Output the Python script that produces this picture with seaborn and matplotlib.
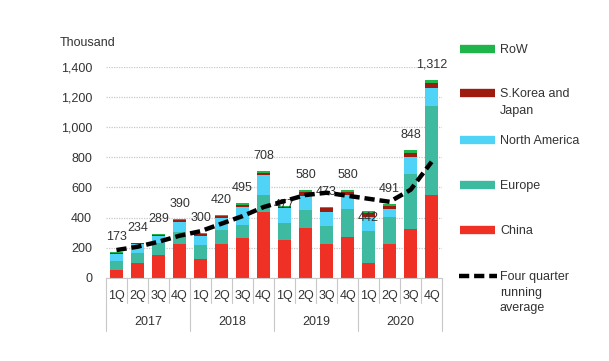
import numpy as np
import matplotlib
matplotlib.use("Agg")
import matplotlib.pyplot as plt
from matplotlib.lines import Line2D
import seaborn as sns

# values (thousand units)
quarters = ["1Q", "2Q", "3Q", "4Q"] * 4
years = ["2017", "2018", "2019", "2020"]
periods = [f"{q} {y}" for y in years for q in ["1Q", "2Q", "3Q", "4Q"]]

china = [50, 100, 150, 225, 128, 225, 267, 439, 252, 333, 225, 273, 101, 225, 322, 549]
europe = [60, 68, 85, 82, 90, 93, 84, 110, 114, 117, 119, 182, 212, 181, 364, 590]
north_america = [48, 55, 40, 62, 60, 77, 121, 133, 100, 95, 95, 95, 90, 52, 113, 121]
korea_japan = [10, 7, 9, 14, 14, 15, 15, 17, 7, 22, 22, 18, 25, 21, 29, 32]
row = [5, 4, 5, 7, 8, 10, 8, 9, 4, 13, 12, 12, 14, 12, 20, 20]
totals = [173, 234, 289, 390, 300, 420, 495, 708, 477, 580, 473, 580, 442, 491, 848, 1312]
running_avg = [185, 207, 240, 280, 310, 360, 410, 470, 510, 550, 565, 545, 525, 505, 585, 770]

series = [("China", china, "#ee3124"),
          ("Europe", europe, "#3dba9f"),
          ("North America", north_america, "#4fd3f6"),
          ("S.Korea and\nJapan", korea_japan, "#9e1b0f"),
          ("RoW", row, "#1fb54b")]

sns.set_style("white")
plt.rcParams["font.family"] = ["Liberation Sans", "DejaVu Sans"]
txt = "#333333"

fig = plt.figure(figsize=(6.09, 3.61), dpi=100)
ax = fig.add_axes([0.174, 0.230, 0.552, 0.585])

bottom = np.zeros(len(periods))
for name, vals, col in series:
    sns.barplot(x=periods, y=vals, bottom=bottom, color=col, saturation=1,
                width=0.63, order=periods, ax=ax, zorder=2, linewidth=0)
    bottom += np.array(vals)

# total labels (a few sit lower in the original)
label_off = {8: 10, 12: -45}
for i, t in enumerate(totals):
    ax.text(i, t + label_off.get(i, 100), f"{t:,}", ha="center", va="center",
            fontsize=9, color=txt, zorder=3)

ax.plot(range(len(periods)), running_avg, color="black", lw=3.2,
        linestyle=(0, (2.3, 1.1)), zorder=5)

ax.set_xlim(-0.5, 15.5)
ax.set_ylim(0, 1400)
ax.set_yticks(range(0, 1401, 200))
ax.set_yticklabels([f"{v:,}" for v in range(0, 1401, 200)], fontsize=9, color=txt)
ax.yaxis.grid(True, linestyle=(0, (1, 1)), color="#c8c8c8", lw=0.9, zorder=0)
ax.set_axisbelow(True)
for s in ["top", "right", "left"]:
    ax.spines[s].set_visible(False)
ax.spines["bottom"].set_color("#c8c8c8")
ax.spines["bottom"].set_linewidth(0.8)
ax.tick_params(axis="y", length=0, pad=10)
ax.set_xticks([])
ax.set_xlabel("")
ax.set_ylabel("")

# multi-level category axis
trans = ax.get_xaxis_transform()
for k in range(17):
    depth = -0.25 if k % 4 == 0 else -0.12
    ax.plot([k - 0.5, k - 0.5], [0, depth], transform=trans, color="#c8c8c8",
            lw=0.8, clip_on=False)
for i, q in enumerate(quarters):
    ax.text(i, -0.085, q, transform=trans, ha="center", va="center", fontsize=9, color=txt)
for j, y in enumerate(years):
    ax.text(j * 4 + 1.5, -0.21, y, transform=trans, ha="center", va="center",
            fontsize=9, color=txt)

fig.text(60 / 609, 1 - 43 / 361, "Thousand", fontsize=9, color=txt, va="center")

# legend drawn by hand to match the uneven spacing
legend_items = [("RoW", "#1fb54b", 49), ("S.Korea and\nJapan", "#9e1b0f", 93),
                ("North America", "#4fd3f6", 140), ("Europe", "#3dba9f", 185),
                ("China", "#ee3124", 230)]
for name, col, py in legend_items:
    yy = 1 - py / 361
    fig.add_artist(Line2D([460 / 609, 495 / 609], [yy, yy], color=col, lw=6,
                          solid_capstyle="butt", transform=fig.transFigure))
    fig.text(500 / 609, yy + 5 / 361, name, fontsize=9, color=txt, va="top",
             linespacing=1.6, transform=fig.transFigure)
yy = 1 - 276 / 361
fig.add_artist(Line2D([459 / 609, 497 / 609], [yy, yy], color="black", lw=3.2,
                      linestyle=(0, (2.3, 1.1)), transform=fig.transFigure))
fig.text(500 / 609, yy + 5 / 361, "Four quarter\nrunning\naverage", fontsize=9,
         color=txt, va="top", linespacing=1.4, transform=fig.transFigure)

fig.savefig("out.png", dpi=100)
